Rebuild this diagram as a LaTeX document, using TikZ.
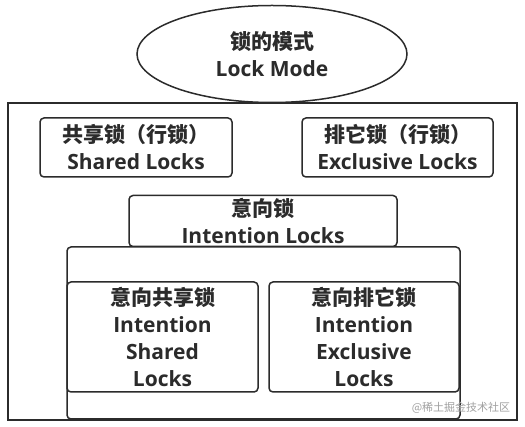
\documentclass[tikz,border=0pt]{standalone}
\usepackage{fontspec}
\setmainfont{Open Sans}
\newfontfamily\cjk{Noto Sans CJK SC}
\usepackage{tikz}
\usepackage{xcolor}
\usetikzlibrary{shapes.geometric}
\definecolor{lockInk}{HTML}{2B2B2B}
\definecolor{lockMark}{HTML}{A0A0A0}

\begin{document}
\begin{tikzpicture}[x=1pt,y=-1pt, every node/.style={font=\fontsize{21}{27}\selectfont\bfseries, text=lockInk},
    lockbox/.style={draw=lockInk, line width=1.5pt, rounded corners=4pt, fill=white, align=center, inner sep=0pt},
    framebox/.style={draw=lockInk, line width=1.5pt, inner sep=0pt}]
    \useasboundingbox (0,0) rectangle (525,427);
    \node[framebox, minimum width=509pt, minimum height=317pt] (frame) at (262.5,261.5) {};
    \node[draw=lockInk, line width=1.5pt, fill=white, ellipse, align=center, inner sep=0pt,
      minimum width=270pt, minimum height=97pt] (mode) at (272,54) {{\cjk 锁的模式}\\Lock Mode};
    \node[lockbox, minimum width=192pt, minimum height=59pt] (shared) at (136,147.5) {{\cjk 共享锁（行锁）}\\Shared Locks};
    \node[lockbox, minimum width=191pt, minimum height=59pt] (excl) at (397.5,147.5) {{\cjk 排它锁（行锁）}\\Exclusive Locks};
    \node[lockbox, minimum width=268pt, minimum height=51pt] (intent) at (263,221) {{\cjk 意向锁}\\Intention Locks};
    \node[lockbox, minimum width=393pt, minimum height=172pt] (group) at (263.5,333) {};
    \node[lockbox, minimum width=191pt, minimum height=110pt] (ishared) at (162.5,337) {{\cjk 意向共享锁}\\Intention\\Shared\\Locks};
    \node[lockbox, minimum width=190pt, minimum height=110pt] (iexcl) at (364,337) {{\cjk 意向排它锁}\\Intention\\Exclusive\\Locks};
    \node[font=\cjk\fontsize{11}{13}\selectfont, text=lockMark] (mark) at (461,408) {@稀土掘金技术社区};
  \end{tikzpicture}
\end{document}
